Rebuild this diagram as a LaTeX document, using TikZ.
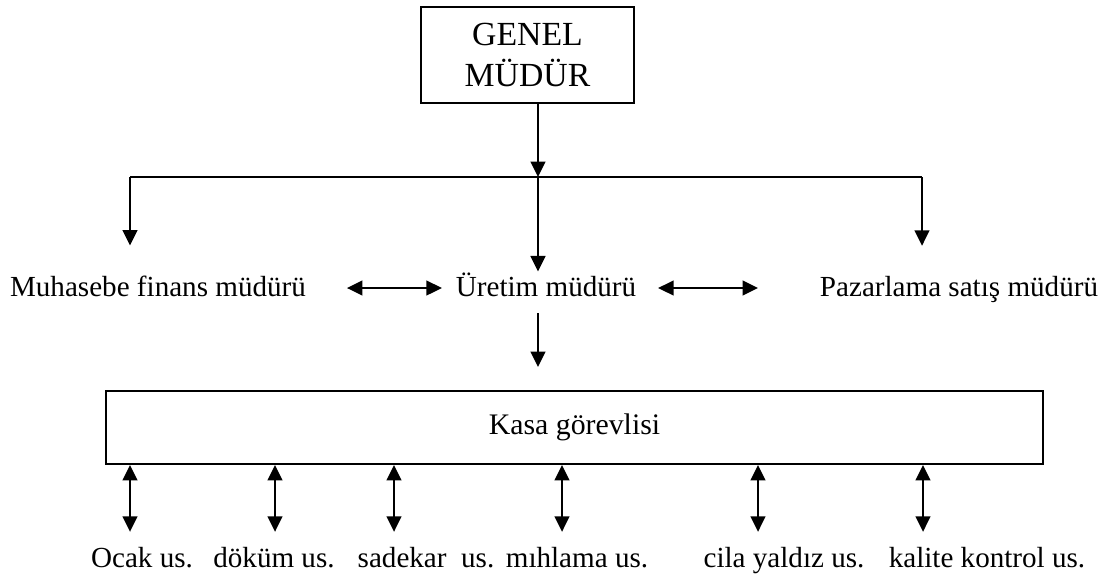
\documentclass[tikz,border=0pt]{standalone}
\usepackage{fontspec}
\setmainfont{Liberation Serif}
\usepackage{tikz}
\usetikzlibrary{arrows.meta,positioning}
\tikzset{box/.style={rectangle,draw,line width=1.4pt,align=center},
         lbl/.style={inner sep=0pt,anchor=base},
         dbl/.style={<->}}

\begin{document}
\begin{tikzpicture}[x=0.025cm,y=-0.025cm,line width=1.4pt,>={Triangle[length=11pt,width=10.5pt]},
    font=\fontsize{20.7}{27}\selectfont]
    \useasboundingbox (0,0) rectangle (1103,573);

    \node[box,minimum width=5.325cm,minimum height=2.4cm,font=\fontsize{24}{29}\selectfont] (gm)at (527.5,55) {GENEL\\MÜDÜR};
    \node[lbl] (muh)at (158,296) {Muhasebe finans müdürü};
    \node[lbl] (ure)at (546,296) {Üretim müdürü};
    \node[lbl] (paz)at (959,296) {Pazarlama satış müdürü};
    \node[box,minimum width=23.425cm,minimum height=1.825cm,font=\fontsize{21.2}{27}\selectfont] (kasa)at (574.5,427.5) {Kasa görevlisi};

    \coordinate (jl)at (130,177);
    \coordinate (jm)at (538,177);
    \coordinate (jr)at (922,177);

    \draw [->] (538,0 |- gm.south) to [] (jm);
    \draw [] (jl) to [] (jr);
    \draw [->,shorten >=0.725cm] (jl) to [] (jl |- muh.north);
    \draw [->] (jm) to [] (jm |- ure.north);
    \draw [->,shorten >=0.725cm] (jr) to [] (jr |- paz.north);

    \draw [dbl] ([shift={(40,-8)}]muh.base east) to [] ([shift={(-13,-8)}]ure.base west);
    \draw [dbl] ([shift={(21,-8)}]ure.base east) to [] ([shift={(-61,-8)}]paz.base west);

    \draw [->,shorten <=0.4cm,shorten >=0.575cm] (538,0 |- ure.south) to [] (538,0 |- kasa.north);

    \foreach \name/\x/\cx/\txt in {ocak/130/142/{Ocak us.},dokum/275/274/{döküm us.},
        sade/394/426/{sadekar\ \ us.},mih/562/577/{mıhlama us.},
        cila/758/784/{cila yaldız us.},kal/923/987/{kalite kontrol us.}}
    {
        \node[lbl] (\name)at (\cx,567) {\txt};
        \draw [dbl,shorten >=0.35cm] (\x,0 |- kasa.south) to [] (\x,0 |- \name.north);
    }
\end{tikzpicture}
\end{document}
